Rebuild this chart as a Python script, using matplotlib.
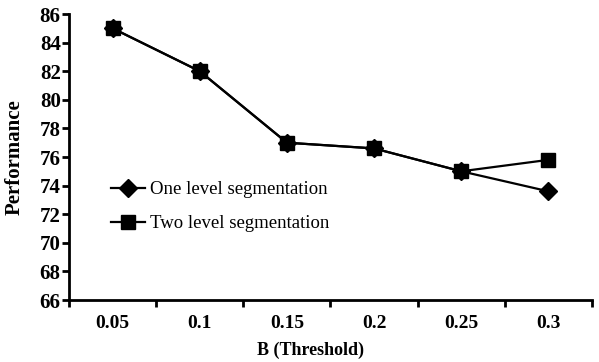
import matplotlib.pyplot as plt
from matplotlib.ticker import FixedLocator, NullFormatter

# data
thresholds = ['0.05', '0.1', '0.15', '0.2', '0.25', '0.3']
one_level = [85.0, 82.0, 77.0, 76.6, 75.0, 73.6]
two_level = [85.0, 82.0, 77.0, 76.6, 75.0, 75.8]

plt.rcParams['font.family'] = ['Liberation Serif', 'DejaVu Serif']

fig = plt.figure(figsize=(5.99, 3.62), dpi=100)
ax = fig.add_axes([69 / 599, 1 - 300 / 362, (592 - 69) / 599, (300 - 14) / 362])

x = list(range(len(thresholds)))
ax.plot(x, two_level, color='black', lw=1.6, marker='s', ms=9.5,
        label='Two level segmentation', zorder=3)
ax.plot(x, one_level, color='black', lw=1.6, marker='D', ms=9,
        label='One level segmentation', zorder=4)

ax.set_xlim(-0.5, len(thresholds) - 0.5)
ax.set_ylim(66, 86)
ax.set_yticks(range(66, 87, 2))

# ticks between the categories, labels at the categories
ax.xaxis.set_major_locator(FixedLocator([i - 0.5 for i in range(len(thresholds) + 1)]))
ax.xaxis.set_major_formatter(NullFormatter())
ax.xaxis.set_minor_locator(FixedLocator(x))
ax.set_xticklabels(thresholds, minor=True)
ax.tick_params(axis='x', which='major', length=5, width=2, direction='out')
ax.tick_params(axis='x', which='minor', length=0, pad=11, labelsize=14)
ax.tick_params(axis='y', length=5, width=2, direction='out', pad=1, labelsize=15)
for lab in ax.get_yticklabels() + ax.get_xticklabels(minor=True):
    lab.set_fontweight('bold')

for s in ['top', 'right']:
    ax.spines[s].set_visible(False)
for s in ['left', 'bottom']:
    ax.spines[s].set_linewidth(2)

ax.set_ylabel('Performance', fontsize=15, fontweight='bold')
ax.yaxis.set_label_coords(-0.085, 0.5)
ax.set_xlabel('B (Threshold)', fontsize=13, fontweight='bold')
ax.xaxis.set_label_coords(0.462, -0.145)

handles, labels = ax.get_legend_handles_labels()
ax.legend(handles[::-1], labels[::-1], loc='upper left', bbox_to_anchor=(0.08, 0.415),
          frameon=False, borderaxespad=0, borderpad=0, handlelength=1.8,
          handletextpad=0.3, labelspacing=0.9, prop={'size': 13.5})

fig.savefig('out.png', dpi=100)
